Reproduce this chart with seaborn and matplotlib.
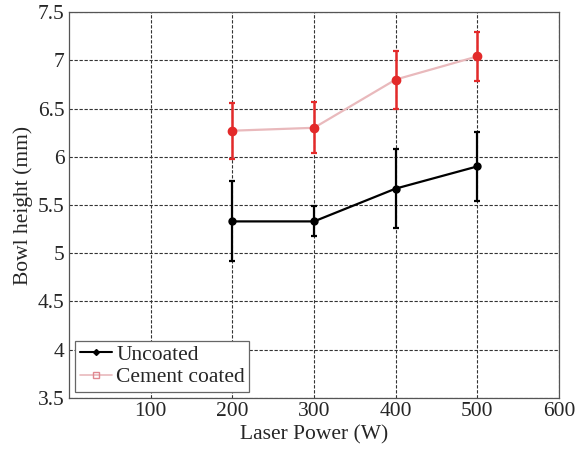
import numpy as np
import pandas as pd
import matplotlib
matplotlib.use("Agg")
import matplotlib.pyplot as plt
from matplotlib.lines import Line2D
import seaborn as sns

power = [200, 300, 400, 500]
uncoated = [5.33, 5.33, 5.67, 5.90]
uncoated_lo = [4.92, 5.18, 5.26, 5.54]
uncoated_hi = [5.75, 5.49, 6.08, 6.26]
coated = [6.27, 6.30, 6.80, 7.04]
coated_lo = [5.98, 6.04, 6.50, 6.79]
coated_hi = [6.56, 6.57, 7.10, 7.29]

df = pd.DataFrame({
    "power": power * 2,
    "height": uncoated + coated,
    "series": ["Uncoated"] * 4 + ["Cement coated"] * 4,
})

sns.set_style("white")
plt.rcParams["font.family"] = ["Liberation Serif", "DejaVu Serif"]

fig = plt.figure(figsize=(5.82, 4.5), dpi=100)
ax = fig.add_axes([0.1186, 0.1156, 0.8419, 0.8577])

line_cols = {"Uncoated": "black", "Cement coated": "#e9b9bc"}
sns.lineplot(data=df, x="power", y="height", hue="series", palette=line_cols,
             linewidth=1.6, legend=False, ax=ax, zorder=3)

u = np.array(uncoated)
c = np.array(coated)
ax.errorbar(power, u, yerr=[u - np.array(uncoated_lo), np.array(uncoated_hi) - u],
            fmt="o", color="black", ms=5, elinewidth=1.6, capsize=2.5, capthick=1.6, zorder=4)
ax.errorbar(power, c, yerr=[c - np.array(coated_lo), np.array(coated_hi) - c],
            fmt="o", color="#e32a2a", ms=6, elinewidth=1.8, capsize=2.5, capthick=1.6, zorder=4)

ax.set_xlim(0, 600)
ax.set_ylim(3.5, 7.5)
ax.set_xticks([100, 200, 300, 400, 500, 600])
ax.set_yticks(np.arange(3.5, 7.51, 0.5))
ax.set_yticklabels(["3.5", "4", "4.5", "5", "5.5", "6", "6.5", "7", "7.5"])
ax.grid(True, color="#333333", linestyle=(0, (3, 1.5)), linewidth=0.8)
ax.set_axisbelow(True)
for s in ax.spines.values():
    s.set_color("#555555")
    s.set_linewidth(0.9)
ax.tick_params(labelsize=15.5, length=0, pad=3)
ax.set_xlabel("Laser Power (W)", fontsize=15.5, labelpad=3)
ax.set_ylabel("Bowl height (mm)", fontsize=15.5, labelpad=4)

handles = [
    Line2D([], [], color="black", marker="D", ms=3, lw=1.5, label="Uncoated"),
    Line2D([], [], color="#e9b9bc", marker="s", ms=4, mfc="none", mec="#e08890",
           lw=1.2, label="Cement coated"),
]
leg = ax.legend(handles=handles, loc="lower left", fontsize=15.5, frameon=True,
                fancybox=False, handlelength=1.5, handletextpad=0.2,
                borderaxespad=0.3, borderpad=0.2, labelspacing=0.1)
leg.get_frame().set_edgecolor("#666666")
leg.get_frame().set_linewidth(0.9)
leg.get_frame().set_alpha(1)

fig.savefig("out.png", dpi=100)
